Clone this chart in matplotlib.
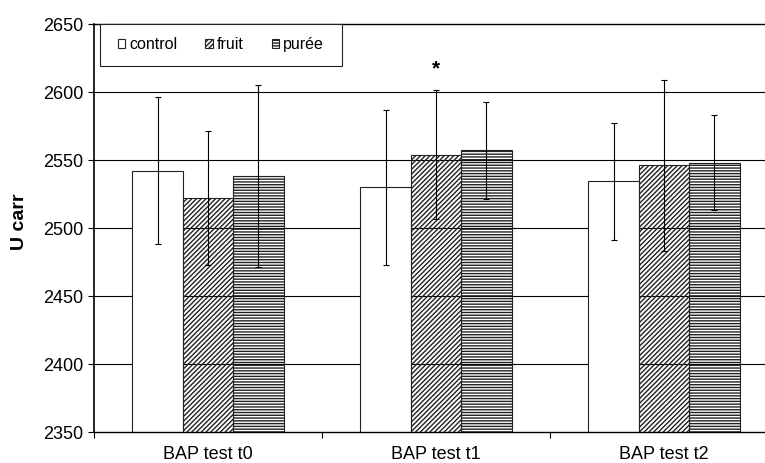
import numpy as np
import matplotlib.pyplot as plt
from matplotlib.patches import Rectangle

plt.rcParams['font.family'] = ['Liberation Sans', 'DejaVu Sans']
plt.rcParams['hatch.linewidth'] = 1.0

# data
groups = ['BAP test t0', 'BAP test t1', 'BAP test t2']
control = [2542, 2530, 2534.5]
control_err = [54, 57, 43]
fruit = [2522, 2554, 2546]
fruit_err = [49.5, 47.5, 63]
puree = [2538, 2557, 2548]
puree_err = [67, 36, 35]
yticks = [2350, 2400, 2450, 2500, 2550, 2600, 2650]

fig = plt.figure(figsize=(7.65, 4.63), dpi=100)
ax = fig.add_axes([94 / 765, 1 - 432 / 463, 1 - 94 / 765, 408 / 463])

x = np.arange(len(groups))
w = 0.221
ec = '#222222'

ax.bar(x - w, control, w, color='white', edgecolor=ec, linewidth=0.8, zorder=2, label='control')
ax.bar(x, fruit, w, facecolor='none', edgecolor=ec, hatch='///////', linewidth=0.8, zorder=2, label='fruit')
ax.bar(x + w, puree, w, facecolor='none', edgecolor=ec, hatch='------', linewidth=0.8, zorder=2, label='purée')

# error bars
for off, vals, errs in [(-w, control, control_err), (0, fruit, fruit_err), (w, puree, puree_err)]:
    ax.errorbar(x + off, vals, yerr=errs, fmt='none', ecolor='black', elinewidth=0.8,
                capsize=2.5, capthick=0.8, zorder=3)

# significance marker
ax.text(1.0, 2617, '*', ha='center', va='center', fontsize=15, fontweight='bold')

ax.set_ylim(2350, 2650)
ax.set_xlim(-0.5, 2.5 - 13 / 228)
ax.set_yticks(yticks)
ax.tick_params(axis='y', labelsize=13, length=4.5, width=0.8, pad=3, direction='out')
ax.set_xticks(x)
ax.set_xticklabels(groups)
ax.set_xticks([-0.5, 0.5, 1.5], minor=True)
ax.tick_params(axis='x', which='major', length=0, labelsize=13, pad=10)
ax.tick_params(axis='x', which='minor', length=4, width=0.8, direction='out')

for yv in yticks[1:-1]:
    ax.axhline(yv, color='black', linewidth=0.8, zorder=0.5)

ax.spines['right'].set_visible(False)
ax.spines['left'].set_linewidth(1.2)
ax.spines['bottom'].set_linewidth(1.0)
ax.spines['top'].set_linewidth(1.0)

ax.set_ylabel('U carr', fontsize=14, fontweight='bold')
ax.yaxis.set_label_coords(-0.098, 0.515)

# legend with a hand-made frame
ax.add_patch(Rectangle((6 / 671, (432 - 66) / 408), 242 / 671, 42 / 408, transform=ax.transAxes,
                       facecolor='white', edgecolor=ec, linewidth=0.8, zorder=4, clip_on=False))
leg = ax.legend(loc='center left', bbox_to_anchor=(24 / 671, (432 - 44.5) / 408), ncol=3,
                frameon=False, fontsize=11.5, handlelength=0.46, handleheight=0.46,
                handletextpad=0.25, columnspacing=1.75, borderpad=0, borderaxespad=0)
leg.set_zorder(5)

fig.savefig('out.png', dpi=100)
